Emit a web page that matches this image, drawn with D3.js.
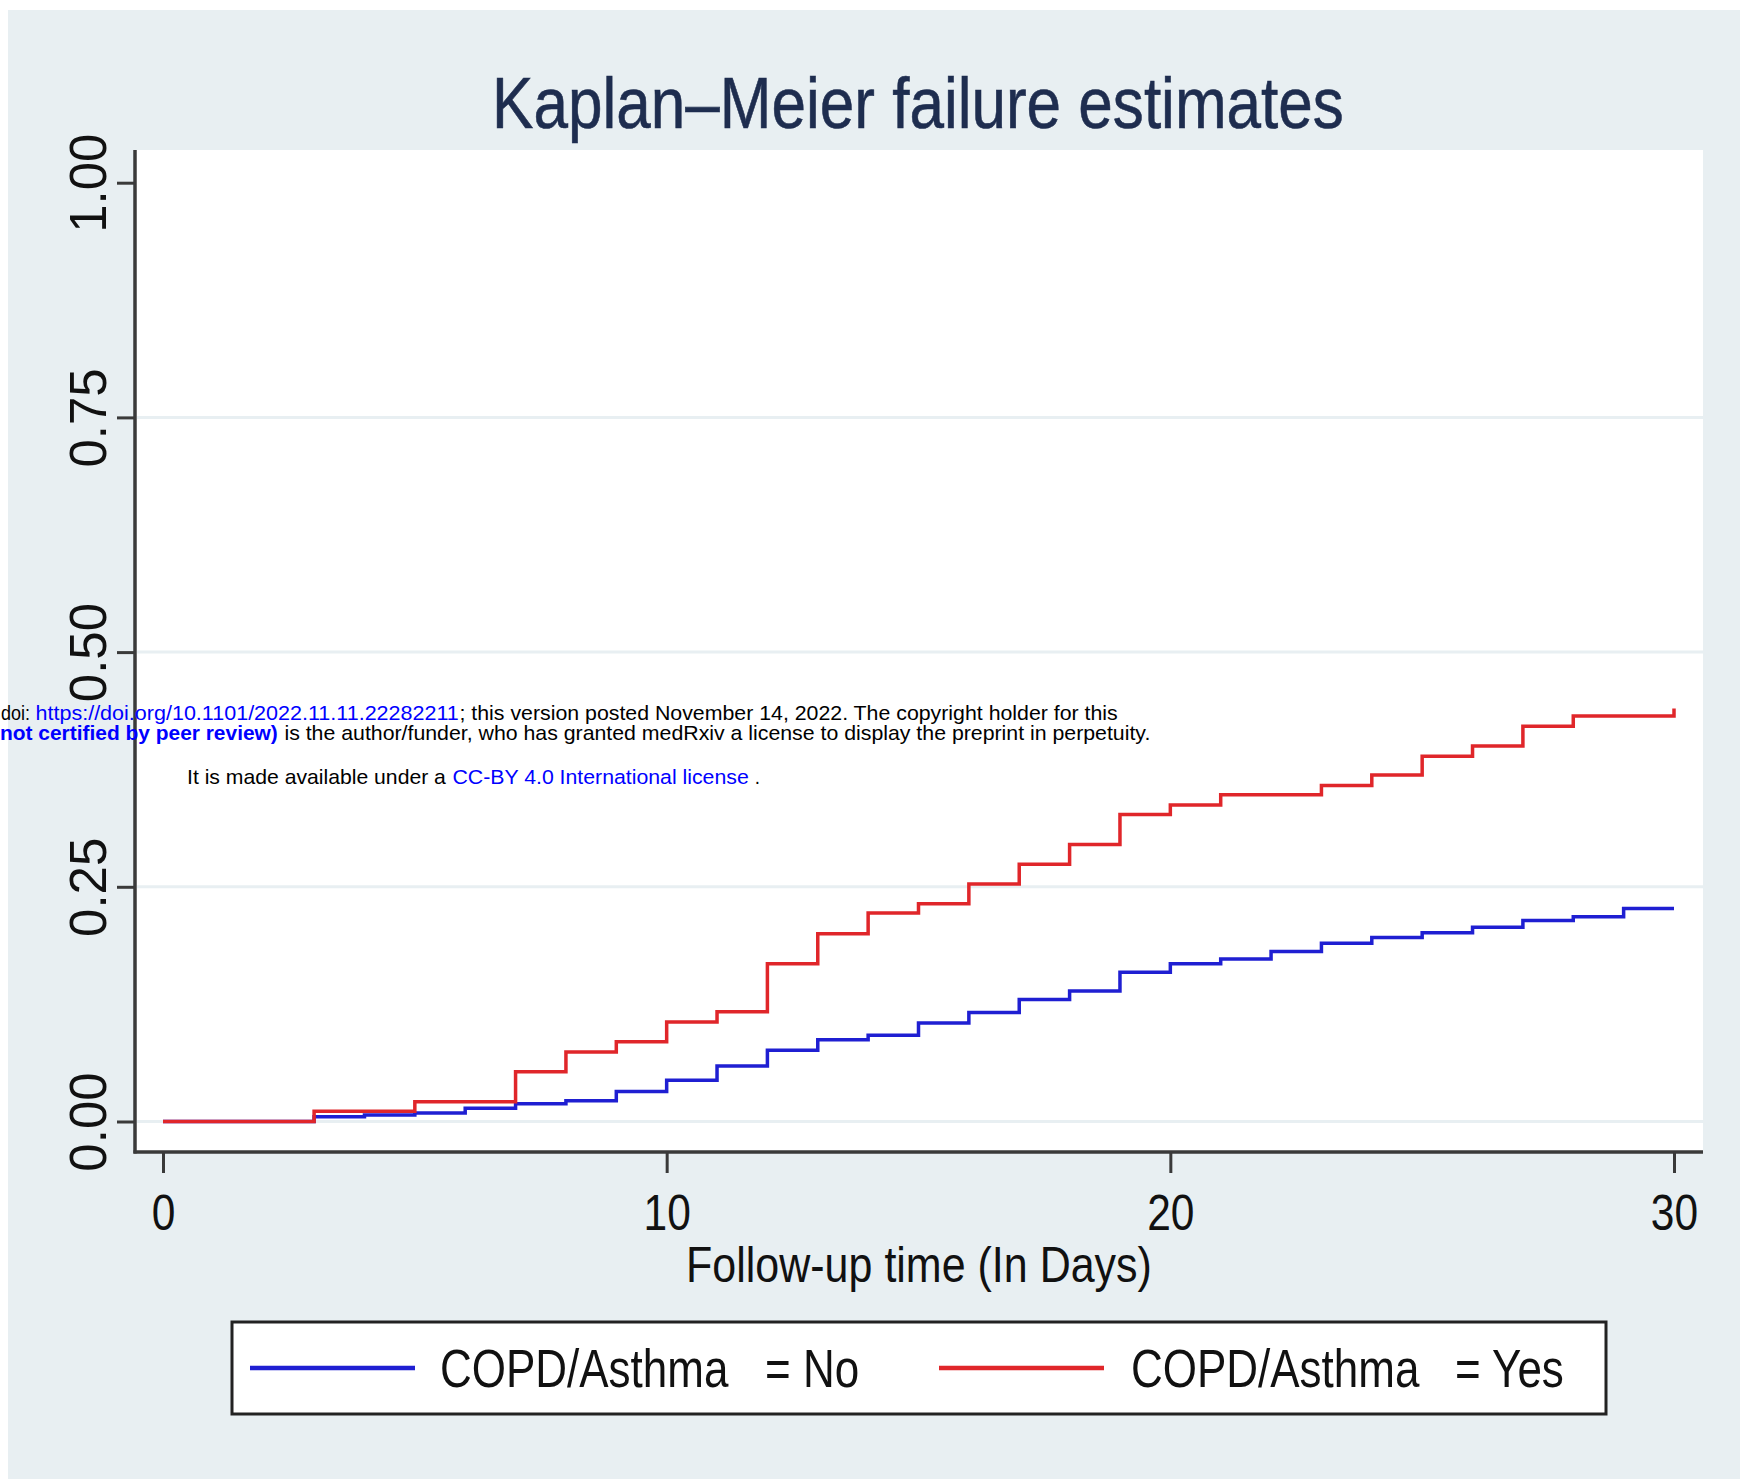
<!DOCTYPE html>
<html>
<head>
<meta charset="utf-8">
<title>Kaplan-Meier failure estimates</title>
<script src="https://d3js.org/d3.v7.min.js"></script>
<style>
  body { margin: 0; background: #fff; }
  svg text { font-family: "Liberation Sans", Arial, Helvetica, sans-serif; white-space: pre; }
</style>
</head>
<body>
<svg width="1740" height="1479"></svg>
<script>
// follow-up day where each step starts
const days = [0, 1, 2, 3, 4, 5, 6, 7, 8, 9, 10, 11, 12, 13, 14, 15,
              16, 17, 18, 19, 20, 21, 22, 23, 24, 25, 26, 27, 28, 29, 30];

// cumulative failure, COPD/Asthma = No
const failNo = [0, 0, 0, 0.005, 0.007, 0.009, 0.014, 0.019, 0.022, 0.032, 0.044,
                0.059, 0.076, 0.087, 0.092, 0.105, 0.116, 0.130, 0.139, 0.159, 0.168,
                0.173, 0.181, 0.190, 0.196, 0.201, 0.207, 0.214, 0.218, 0.227, 0.227];

// cumulative failure, COPD/Asthma = Yes
const failYes = [0, 0, 0, 0.011, 0.011, 0.021, 0.021, 0.053, 0.074, 0.085, 0.106,
                 0.117, 0.168, 0.200, 0.222, 0.232, 0.253, 0.274, 0.295, 0.327, 0.337,
                 0.348, 0.348, 0.358, 0.369, 0.389, 0.400, 0.421, 0.432, 0.432, 0.440];

const groupVar = "COPD/Asthma";
const groupLevels = ["No", "Yes"];
const seriesColors = ["#1f1fd2", "#e0262a"];

const xTicks = [0, 10, 20, 30];
const yTicks = [0, 0.25, 0.5, 0.75, 1];
const gridTicks = [0, 0.25, 0.5, 0.75];

const titleText = "Kaplan\u2013Meier failure estimates";
const xTitle = "Follow-up time (In Days)";

// plot region
const plot = { left: 135, top: 150, right: 1703, bottom: 1152 };
const bg = "#e8eff2";
const axisColor = "#3a3a3a";

const svg = d3.select("svg");

// graph background
svg.append("rect").attr("width", 1740).attr("height", 1479).attr("fill", "#fff");
svg.append("rect").attr("x", 8).attr("y", 10).attr("width", 1732).attr("height", 1469).attr("fill", bg);
svg.append("rect")
  .attr("x", plot.left).attr("y", plot.top)
  .attr("width", plot.right - plot.left).attr("height", plot.bottom - plot.top)
  .attr("fill", "#fff");

const x = d3.scaleLinear().domain([0, 30]).range([163, 1674]);
const y = d3.scaleLinear().domain([0, 1]).range([1121.5, 182.7]);

// squeeze horizontal text (the original image was stretched) around its x anchor
function narrow(sel, f) {
  sel.each(function() {
    const t = d3.select(this);
    const x0 = +t.attr("x") || 0;
    const prev = t.attr("transform") || "";
    t.attr("transform", `${prev} translate(${x0},0) scale(${f},1) translate(${-x0},0)`);
  });
}

// grid lines
svg.append("g").selectAll("line")
  .data(gridTicks)
  .join("line")
  .attr("x1", plot.left + 2).attr("x2", plot.right)
  .attr("y1", d => y(d)).attr("y2", d => y(d))
  .attr("stroke", bg).attr("stroke-width", 3);

// y axis
const yAxis = svg.append("g")
  .attr("transform", `translate(${plot.left},0)`)
  .call(d3.axisLeft(y).tickValues(yTicks).tickFormat(d3.format(".2f")).tickSize(18).tickSizeOuter(0));
yAxis.select(".domain").remove();
yAxis.selectAll(".tick line").attr("stroke", axisColor).attr("stroke-width", 3);
yAxis.selectAll(".tick text")
  .attr("x", null).attr("dy", null)
  .attr("transform", "translate(-29,0) rotate(-90)")
  .attr("text-anchor", "middle")
  .attr("fill", "#111")
  .attr("font-size", 51);

// x axis
const xAxis = svg.append("g")
  .attr("transform", `translate(0,${plot.bottom})`)
  .call(d3.axisBottom(x).tickValues(xTicks).tickSize(21).tickSizeOuter(0));
xAxis.select(".domain").remove();
xAxis.selectAll(".tick line").attr("stroke", axisColor).attr("stroke-width", 3);
xAxis.selectAll(".tick text")
  .attr("y", 78).attr("dy", null)
  .attr("fill", "#111")
  .attr("font-size", 50)
  .call(narrow, 0.85);

// axis lines
svg.append("line")
  .attr("x1", plot.left).attr("x2", plot.left)
  .attr("y1", plot.top).attr("y2", plot.bottom + 1.5)
  .attr("stroke", axisColor).attr("stroke-width", 3.5);
svg.append("line")
  .attr("x1", plot.left - 1.5).attr("x2", plot.right)
  .attr("y1", plot.bottom).attr("y2", plot.bottom)
  .attr("stroke", axisColor).attr("stroke-width", 3.5);

// KM step curves
const line = d3.line()
  .x(d => x(d[0]))
  .y(d => y(d[1]))
  .curve(d3.curveStepAfter);

[failNo, failYes].forEach((vals, i) => {
  svg.append("path")
    .datum(days.map((d, j) => [d, vals[j]]))
    .attr("fill", "none")
    .attr("stroke", seriesColors[i])
    .attr("stroke-width", 3.5)
    .attr("d", line);
});

// title
svg.append("text")
  .attr("x", 918).attr("y", 128)
  .attr("text-anchor", "middle")
  .attr("font-size", 73)
  .attr("fill", "#1e2d4f")
  .attr("stroke", "#1e2d4f").attr("stroke-width", 0.6)
  .text(titleText)
  .call(narrow, 0.85);

// x axis title
svg.append("text")
  .attr("x", 919).attr("y", 1282)
  .attr("text-anchor", "middle")
  .attr("font-size", 50)
  .attr("fill", "#111")
  .text(xTitle)
  .call(narrow, 0.86);

// legend
svg.append("rect")
  .attr("x", 232).attr("y", 1322)
  .attr("width", 1374).attr("height", 92)
  .attr("fill", "#fff")
  .attr("stroke", "#222").attr("stroke-width", 3);

const legendKeyX = [250, 939];
const legendNameX = [440, 1131];
const legendLevelX = [765, 1455];
groupLevels.forEach((lev, i) => {
  svg.append("line")
    .attr("x1", legendKeyX[i]).attr("x2", legendKeyX[i] + 165)
    .attr("y1", 1368).attr("y2", 1368)
    .attr("stroke", seriesColors[i]).attr("stroke-width", 4.5);
  svg.append("text")
    .attr("x", legendNameX[i]).attr("y", 1387)
    .attr("font-size", 53)
    .attr("fill", "#111")
    .text(groupVar)
    .call(narrow, 0.83);
  svg.append("text")
    .attr("x", legendLevelX[i]).attr("y", 1387)
    .attr("font-size", 53)
    .attr("fill", "#111")
    .text("= " + lev)
    .call(narrow, 0.83);
});

// medRxiv watermark overlay, each piece fitted between x0 and x1
function seg(str, x0, x1, yb, color, weight) {
  const t = svg.append("text")
    .attr("x", x0).attr("y", yb)
    .attr("font-size", 20.5)
    .attr("font-weight", weight || "normal")
    .attr("fill", color)
    .text(str);
  const w = t.node().getComputedTextLength();
  t.call(narrow, (x1 - x0) / w);
}
seg("doi: ", 1, 35, 720, "#000");
seg("https://doi.org/10.1101/2022.11.11.22282211", 35.5, 459, 720, "#0000ff");
seg("; this version posted November 14, 2022. The copyright holder for this", 459.5, 1118, 720, "#000");
seg("not certified by peer review)", 0, 278, 740, "#0000ff", "bold");
seg(" is the author/funder, who has granted medRxiv a license to display the preprint in perpetuity.", 278.5, 1151, 740, "#000");
seg("It is made available under a ", 187, 452, 784, "#000");
seg("CC-BY 4.0 International license", 452.5, 749, 784, "#0000ff");
seg(" .", 749.5, 760, 784, "#000");
</script>
</body>
</html>
